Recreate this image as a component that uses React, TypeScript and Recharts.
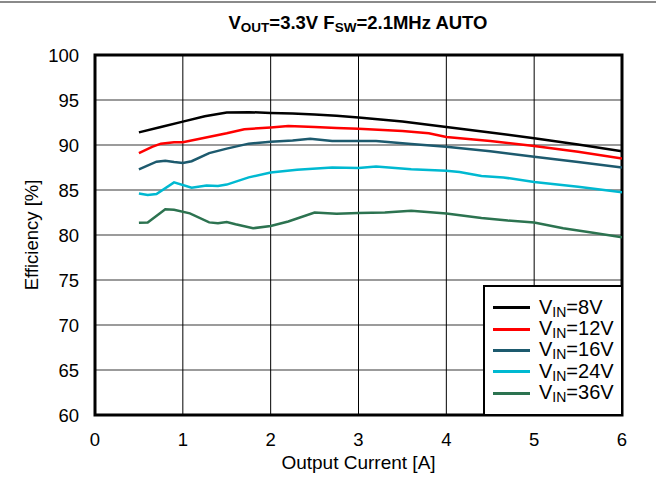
import React from 'react';
import { LineChart, Line, XAxis, YAxis, CartesianGrid, ReferenceArea, Legend } from 'recharts';

const xTicks = [0, 1, 2, 3, 4, 5, 6];
const yTicks = [60, 65, 70, 75, 80, 85, 90, 95, 100];

const vin8 = [
  { i: 0.5, e: 91.4 }, { i: 0.75, e: 92.0 }, { i: 1.0, e: 92.6 }, { i: 1.25, e: 93.2 },
  { i: 1.5, e: 93.6 }, { i: 1.75, e: 93.65 }, { i: 2.0, e: 93.55 }, { i: 2.25, e: 93.5 },
  { i: 2.5, e: 93.4 }, { i: 2.75, e: 93.25 }, { i: 3.0, e: 93.05 }, { i: 3.5, e: 92.6 },
  { i: 4.0, e: 92.0 }, { i: 4.5, e: 91.4 }, { i: 5.0, e: 90.75 }, { i: 5.5, e: 90.05 },
  { i: 6.0, e: 89.3 },
];

const vin12 = [
  { i: 0.5, e: 89.1 }, { i: 0.65, e: 89.8 }, { i: 0.75, e: 90.15 }, { i: 0.9, e: 90.3 },
  { i: 1.0, e: 90.3 }, { i: 1.25, e: 90.8 }, { i: 1.5, e: 91.3 }, { i: 1.7, e: 91.75 },
  { i: 2.0, e: 91.95 }, { i: 2.2, e: 92.1 }, { i: 2.5, e: 92.0 }, { i: 2.75, e: 91.9 },
  { i: 3.0, e: 91.8 }, { i: 3.5, e: 91.55 }, { i: 3.8, e: 91.3 }, { i: 4.0, e: 90.9 },
  { i: 4.5, e: 90.45 }, { i: 5.0, e: 89.9 }, { i: 5.5, e: 89.25 }, { i: 6.0, e: 88.5 },
];

const vin16 = [
  { i: 0.5, e: 87.3 }, { i: 0.7, e: 88.15 }, { i: 0.8, e: 88.25 }, { i: 0.9, e: 88.1 },
  { i: 1.0, e: 88.0 }, { i: 1.1, e: 88.2 }, { i: 1.3, e: 89.1 }, { i: 1.5, e: 89.6 },
  { i: 1.75, e: 90.15 }, { i: 2.0, e: 90.35 }, { i: 2.25, e: 90.5 }, { i: 2.45, e: 90.7 },
  { i: 2.7, e: 90.45 }, { i: 3.0, e: 90.45 }, { i: 3.2, e: 90.45 }, { i: 3.6, e: 90.1 },
  { i: 4.0, e: 89.8 }, { i: 4.5, e: 89.3 }, { i: 5.0, e: 88.7 }, { i: 5.5, e: 88.1 },
  { i: 6.0, e: 87.5 },
];

const vin24 = [
  { i: 0.5, e: 84.6 }, { i: 0.6, e: 84.45 }, { i: 0.7, e: 84.55 }, { i: 0.9, e: 85.85 },
  { i: 1.1, e: 85.25 }, { i: 1.27, e: 85.5 }, { i: 1.4, e: 85.45 }, { i: 1.5, e: 85.6 },
  { i: 1.75, e: 86.4 }, { i: 2.0, e: 86.95 }, { i: 2.3, e: 87.25 }, { i: 2.7, e: 87.5 },
  { i: 3.0, e: 87.45 }, { i: 3.2, e: 87.6 }, { i: 3.6, e: 87.3 }, { i: 4.0, e: 87.15 },
  { i: 4.15, e: 87.0 }, { i: 4.4, e: 86.55 }, { i: 4.65, e: 86.4 }, { i: 5.0, e: 85.9 },
  { i: 5.5, e: 85.35 }, { i: 6.0, e: 84.75 },
];

const vin36 = [
  { i: 0.5, e: 81.35 }, { i: 0.6, e: 81.4 }, { i: 0.8, e: 82.85 }, { i: 0.9, e: 82.8 },
  { i: 1.08, e: 82.4 }, { i: 1.3, e: 81.4 }, { i: 1.4, e: 81.3 }, { i: 1.5, e: 81.45 },
  { i: 1.6, e: 81.2 }, { i: 1.8, e: 80.75 }, { i: 2.0, e: 81.0 }, { i: 2.2, e: 81.5 },
  { i: 2.5, e: 82.5 }, { i: 2.75, e: 82.35 }, { i: 3.0, e: 82.45 }, { i: 3.3, e: 82.5 },
  { i: 3.6, e: 82.7 }, { i: 4.0, e: 82.4 }, { i: 4.4, e: 81.9 }, { i: 4.7, e: 81.6 },
  { i: 5.0, e: 81.4 }, { i: 5.33, e: 80.75 }, { i: 5.67, e: 80.25 }, { i: 6.0, e: 79.75 },
];

const series = [
  { name: '8V', data: vin8, color: '#000000' },
  { name: '12V', data: vin12, color: '#ff0000' },
  { name: '16V', data: vin16, color: '#1d5a6e' },
  { name: '24V', data: vin24, color: '#00b9d1' },
  { name: '36V', data: vin36, color: '#2c7350' },
];

const FONT = '"Liberation Sans", Arial, Helvetica, sans-serif';

const LegendBox = () => {
  return (
    <div
      style={{
        width: 140,
        height: 131,
        boxSizing: 'border-box',
        border: '2.5px solid #000',
        background: '#fff',
        paddingTop: 10,
        fontFamily: FONT,
      }}
    >
      {series.map((s) => (
        <div key={s.name} style={{ display: 'flex', alignItems: 'center', height: 21.4 }}>
          <span
            style={{ display: 'inline-block', width: 37, height: 3, background: s.color, marginLeft: 8, marginRight: 9 }}
          />
          <span style={{ fontSize: 20, lineHeight: '20px', whiteSpace: 'nowrap', color: '#000' }}>
            V<span style={{ fontSize: 14, position: 'relative', top: 3 }}>IN</span>={s.name}
          </span>
        </div>
      ))}
    </div>
  );
};

export default function App() {
  return (
    <div style={{ position: 'absolute', left: 0, top: 0, width: 656, height: 479, background: '#fff', fontFamily: FONT }}>
      <div style={{ position: 'absolute', left: 0, top: 1, width: 656, height: 2, background: '#8a8a8a' }} />
      <svg
        width={656}
        height={40}
        style={{ position: 'absolute', left: 0, top: 0, pointerEvents: 'none', zIndex: 2 }}
      >
        <text x={358} y={28.5} textAnchor="middle" fontFamily={FONT} fontWeight="bold" fontSize={18.5} fill="#000">
          V<tspan fontSize={13.5} dy={3}>OUT</tspan>
          <tspan dy={-3}>=3.3V F</tspan>
          <tspan fontSize={13.5} dy={3}>SW</tspan>
          <tspan dy={-3}>=2.1MHz AUTO</tspan>
        </text>
      </svg>
      <LineChart width={656} height={479} margin={{ top: 55, right: 34, bottom: 0, left: 0 }}>
        <CartesianGrid horizontal={true} vertical={false} stroke="#7a7a7a" strokeWidth={1.5} />
        <CartesianGrid horizontal={false} vertical={true} stroke="#000" strokeWidth={1} />
        <XAxis
          type="number"
          dataKey="i"
          domain={[0, 6]}
          ticks={xTicks}
          height={64}
          axisLine={false}
          tickLine={false}
          tickMargin={12}
          tick={{ fontSize: 18.5, fill: '#000' }}
          allowDataOverflow
          label={{ value: 'Output Current [A]', position: 'insideBottom', offset: 10, style: { fontSize: 19, fill: '#000' } }}
        />
        <YAxis
          type="number"
          dataKey="e"
          domain={[60, 100]}
          ticks={yTicks}
          width={95}
          axisLine={false}
          tickLine={false}
          tickMargin={10}
          tick={{ fontSize: 18.5, fill: '#000' }}
          allowDataOverflow
          label={{
            value: 'Efficiency [%]',
            angle: -90,
            position: 'insideLeft',
            offset: 31,
            style: { textAnchor: 'middle', fontSize: 18.5, fill: '#000' },
          }}
        />
        {series.map((s) => (
          <Line
            key={s.name}
            data={s.data}
            dataKey="e"
            name={s.name}
            type="linear"
            stroke={s.color}
            strokeWidth={2.5}
            dot={false}
            activeDot={false}
            isAnimationActive={false}
          />
        ))}
        <ReferenceArea x1={0} x2={6} y1={60} y2={100} fill="none" stroke="#000" strokeWidth={3} />
        <Legend
          layout="vertical"
          align="center"
          verticalAlign="middle"
          content={<LegendBox />}
          wrapperStyle={{ position: 'absolute', left: 483, top: 285, width: 140, height: 131 }}
        />
      </LineChart>
    </div>
  );
}
